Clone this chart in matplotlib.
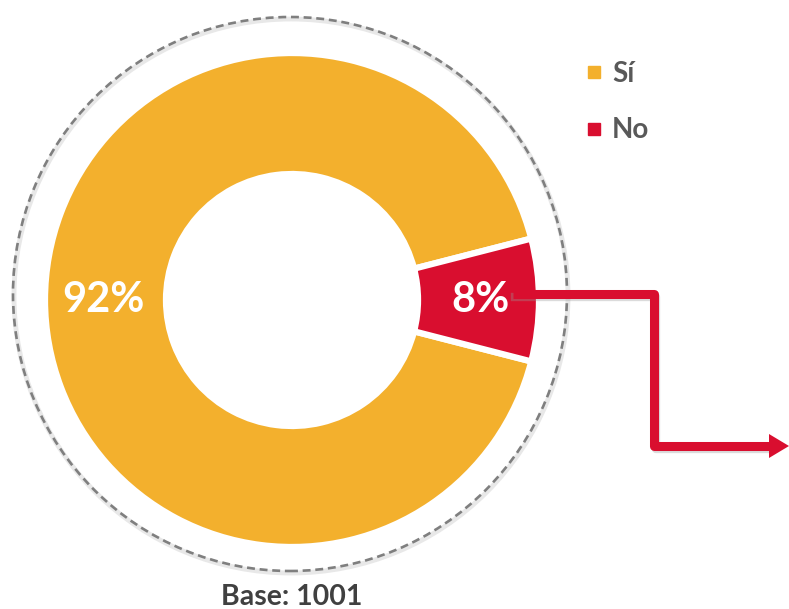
import matplotlib
matplotlib.use("Agg")
import matplotlib.pyplot as plt
from matplotlib.lines import Line2D
from matplotlib.patches import Circle, Polygon

# ---- data ----
categories = ["Sí", "No"]
values = [92, 8]
colors = ["#F3B02D", "#D90E2F"]
base_label = "Base: 1001"

FONT = ["Lato", "DejaVu Sans"]
W, H = 789, 609
fig = plt.figure(figsize=(W / 100, H / 100), dpi=100)
ax = fig.add_axes([0, 0, 1, 1])

cx, cy = 292, H - 300
R = 247
ring = 121

wedges, texts, autotexts = ax.pie(
    values, colors=colors, startangle=14.4, counterclock=True,
    center=(cx, cy), radius=R, frame=True,
    wedgeprops=dict(width=ring, edgecolor="white", linewidth=4.5),
    autopct=lambda p: f"{p:.0f}%", pctdistance=0.765,
    textprops=dict(color="white", fontsize=30, fontweight="bold", family=FONT),
)

# dashed outer circle with soft shadow
shadow = Circle((291, H - 296), 277, fill=False, ec="#D9D9D9", lw=3.5, alpha=0.6, zorder=0)
ax.add_patch(shadow)
circ = Circle((290, H - 294), 277, fill=False, ec="#7F7F7F", lw=1.9,
              ls=(0, (3.0, 1.8)), zorder=1)
ax.add_patch(circ)

# connector arrow
red = colors[1]
ys, ye = H - 294, H - 446
ax.plot([515, 656, 656, 770], [ys - 3, ys - 3, ye - 3, ye - 3], color="#999999", lw=6,
        alpha=0.35, solid_joinstyle="round", zorder=4)
ax.plot([513, 654, 654, 771], [ys, ys, ye, ye], color=red, lw=6.5,
        solid_joinstyle="round", solid_capstyle="butt", zorder=5)
head = Polygon([[769, ye + 12], [789, ye], [769, ye - 12]], closed=True,
               fc=red, ec="none", zorder=5)
ax.add_patch(head)

# legend
handles = [Line2D([], [], marker="s", ls="", color=c, markersize=8) for c in colors]
leg = ax.legend(handles, categories, loc="upper left", bbox_to_anchor=(561 / W, 1 - 36 / H),
                frameon=False, handlelength=0.6, handletextpad=0.33, labelspacing=1.09,
                prop=dict(family=FONT, weight="bold", size=20))
for t in leg.get_texts():
    t.set_color("#595959")

ax.text(292, H - 597, base_label, ha="center", va="center", fontsize=20.5,
        fontweight="bold", color="#404040", family=FONT)

ax.set_xlim(0, W)
ax.set_ylim(0, H)
ax.set_aspect("equal")
ax.axis("off")
fig.savefig("out.png", dpi=100)
